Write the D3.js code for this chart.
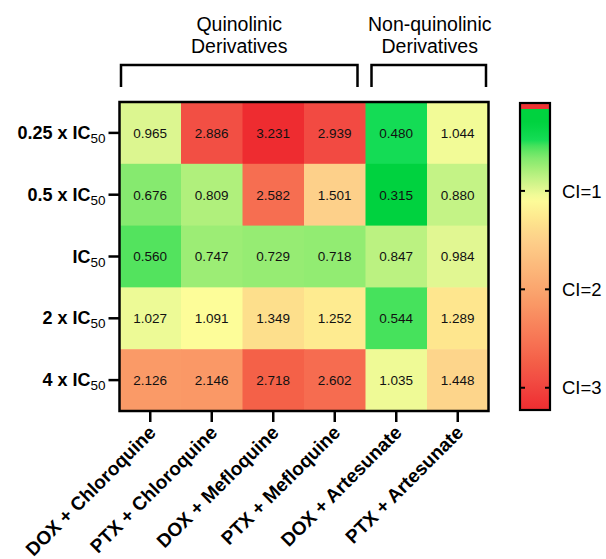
<!DOCTYPE html>
<html><head><meta charset="utf-8">
<script src="https://cdn.jsdelivr.net/npm/d3@7"></script>
<style>
html,body{margin:0;padding:0;background:#fff;}
text{font-family:"Liberation Sans",Arial,Helvetica,sans-serif;}
</style></head>
<body><svg id="chart" width="606" height="559"></svg>
<script>
// ---- data ----
const combos = ["DOX + Chloroquine","PTX + Chloroquine","DOX + Mefloquine","PTX + Mefloquine","DOX + Artesunate","PTX + Artesunate"];
const doses = ["0.25 x IC","0.5 x IC","IC","2 x IC","4 x IC"];
const doseSub = ["50","50","50","50","50"];
const row025 = [0.965,2.886,3.231,2.939,0.480,1.044];
const row05  = [0.676,0.809,2.582,1.501,0.315,0.880];
const row1   = [0.560,0.747,0.729,0.718,0.847,0.984];
const row2   = [1.027,1.091,1.349,1.252,0.544,1.289];
const row4   = [2.126,2.146,2.718,2.602,1.035,1.448];
const rows = [row025,row05,row1,row2,row4];
const groups = [
  {lines:["Quinolinic","Derivatives"], from:0, to:3},
  {lines:["Non-quinolinic","Derivatives"], from:4, to:5}
];
const legendTicks = [1,2,3];
const legendLabels = ["CI=1","CI=2","CI=3"];
const colorStops = [0.315,0.48,0.56,0.68,0.72,0.81,0.88,0.965,1.03,1.09,1.25,1.35,1.5,2.13,2.6,2.72,2.9,3.231];
const colorVals  = ["#00d23f","#14dc55","#53e35e","#88ea70","#93ec72","#b0f07c","#c4f386","#dcf690","#eefa96","#fdfd99","#feeb90","#fddf8c","#fdd08a","#fa9a67","#f66c50","#f46148","#f24e44","#ee2c30"];
const legendDomain = [0.107,3.226];
const outOfRangeColor = "#ee3333";

// ---- layout ----
const svg = d3.select("#chart");
const L = 119.5, R = 488.5, T = 102, B = 411;
const x = d3.scaleBand().domain(combos).range([L,R]).padding(0);
const y = d3.scaleBand().domain(doses).range([T,B]).padding(0);
const color = d3.scaleLinear().domain(colorStops).range(colorVals).interpolate(d3.interpolateRgb).clamp(true);

const cells = [];
rows.forEach((r,i)=>r.forEach((v,j)=>cells.push({row:doses[i],col:combos[j],v})));

const g = svg.append("g");
g.selectAll("rect.cell").data(cells).join("rect")
  .attr("class","cell")
  .attr("x",d=>x(d.col)).attr("y",d=>y(d.row))
  .attr("width",x.bandwidth()+0.5).attr("height",y.bandwidth()+0.5)
  .attr("fill",d=>color(d.v));
g.selectAll("text.val").data(cells).join("text")
  .attr("class","val")
  .attr("x",d=>x(d.col)+x.bandwidth()/2).attr("y",d=>y(d.row)+y.bandwidth()/2)
  .attr("text-anchor","middle").attr("dy","0.36em")
  .attr("font-size",13.5).attr("fill","#111")
  .text(d=>d.v.toFixed(3));
g.append("rect").attr("x",L).attr("y",T).attr("width",R-L).attr("height",B-T)
  .attr("fill","none").attr("stroke","#000").attr("stroke-width",2.5);

// y axis
const yAxis = g.append("g");
doses.forEach((d,i)=>{
  const cy = y(d)+y.bandwidth()/2;
  yAxis.append("line").attr("x1",L-11).attr("x2",L).attr("y1",cy).attr("y2",cy)
    .attr("stroke","#000").attr("stroke-width",2.5);
  const t = yAxis.append("text").attr("x",L-14).attr("y",cy+6)
    .attr("text-anchor","end").attr("font-size",18).attr("font-weight","bold").attr("fill","#000");
  t.append("tspan").text(d);
  t.append("tspan").attr("dy",4).attr("font-size",13.5).attr("font-weight","normal").text(doseSub[i]);
});

// x axis
const xAxis = g.append("g");
combos.forEach(c=>{
  const cx = x(c)+x.bandwidth()/2;
  xAxis.append("line").attr("x1",cx).attr("x2",cx).attr("y1",B).attr("y2",B+11)
    .attr("stroke","#000").attr("stroke-width",2.5);
  xAxis.append("text").attr("transform",`translate(${cx+2},${B+18}) rotate(-45)`)
    .attr("text-anchor","end").attr("dy","0.35em")
    .attr("font-size",19).attr("font-weight","bold").attr("fill","#000").text(c);
});

// group brackets
groups.forEach((gr,k)=>{
  const x0 = x(combos[gr.from]) + (k===0?1.5:6);
  const x1 = x(combos[gr.to]) + x.bandwidth() - (k===0?8:2.5);
  const by = 65, bb = 87;
  g.append("path").attr("d",`M${x0},${bb}V${by}H${x1}V${bb}`)
    .attr("fill","none").attr("stroke","#000").attr("stroke-width",2.5);
  const cx = k===0 ? (x0+x1)/2 : (x0+x1)/2 + 1;
  gr.lines.forEach((ln,i)=>{
    g.append("text").attr("x",cx).attr("y",31+i*22).attr("text-anchor","middle")
      .attr("font-size",19.5).attr("fill","#000").text(ln);
  });
});

// legend
const lx = 520, lw = 30, lt = 103, lb = 410;
const ly = d3.scaleLinear().domain(legendDomain).range([lt,lb]);
const defs = svg.append("defs");
const grad = defs.append("linearGradient").attr("id","cbar").attr("x1",0).attr("x2",0).attr("y1",0).attr("y2",1);
d3.range(0,1.0001,0.02).forEach(f=>{
  const v = legendDomain[0] + f*(legendDomain[1]-legendDomain[0]);
  grad.append("stop").attr("offset",f).attr("stop-color",color(v));
});
const redH = 6;
svg.append("rect").attr("x",lx).attr("y",lt).attr("width",lw).attr("height",lb-lt)
  .attr("fill","url(#cbar)");
svg.append("rect").attr("x",lx).attr("y",lt).attr("width",lw).attr("height",redH)
  .attr("fill",outOfRangeColor);
svg.append("rect").attr("x",lx).attr("y",lt).attr("width",lw).attr("height",lb-lt)
  .attr("fill","none").attr("stroke","#000").attr("stroke-width",2.2);
legendTicks.forEach((t,i)=>{
  const ty = ly(t);
  svg.append("line").attr("x1",lx).attr("x2",lx+5).attr("y1",ty).attr("y2",ty).attr("stroke","#000").attr("stroke-width",2);
  svg.append("line").attr("x1",lx+lw-5).attr("x2",lx+lw).attr("y1",ty).attr("y2",ty).attr("stroke","#000").attr("stroke-width",2);
  svg.append("text").attr("x",lx+lw+12).attr("y",ty).attr("dy","0.36em")
    .attr("font-size",18.5).attr("fill","#000").text(legendLabels[i]);
});
</script></body></html>
